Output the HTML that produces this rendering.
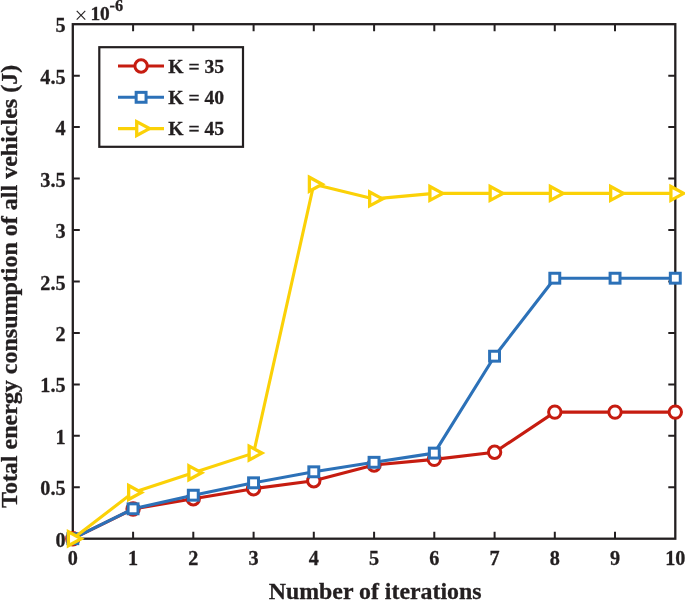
<!DOCTYPE html>
<html><head><meta charset="utf-8"><title>Total energy consumption</title>
<style>
html,body{margin:0;padding:0;background:#fff;}
svg{display:block;}
text{font-family:"Liberation Serif","Times New Roman",serif;font-weight:bold;fill:#231f20;stroke:#231f20;stroke-width:0.3px;}
.t{font-size:20.2px;}
.g{font-size:19.6px;}
.yl{font-size:23.9px;}
.l{font-size:24px;}
</style></head><body>
<svg width="685" height="600" viewBox="0 0 685 600">
<rect width="685" height="600" fill="#fff"/>
<rect x="72.8" y="24.2" width="602.5" height="514.5" fill="none" stroke="#231f20" stroke-width="2.3"/>
<path d="M133.1 538.7v-7M133.1 24.2v7M193.3 538.7v-7M193.3 24.2v7M253.6 538.7v-7M253.6 24.2v7M313.8 538.7v-7M313.8 24.2v7M374.1 538.7v-7M374.1 24.2v7M434.3 538.7v-7M434.3 24.2v7M494.6 538.7v-7M494.6 24.2v7M554.8 538.7v-7M554.8 24.2v7M615.0 538.7v-7M615.0 24.2v7M72.8 487.3h7M675.3 487.3h-7M72.8 435.8h7M675.3 435.8h-7M72.8 384.4h7M675.3 384.4h-7M72.8 332.9h7M675.3 332.9h-7M72.8 281.5h7M675.3 281.5h-7M72.8 230.0h7M675.3 230.0h-7M72.8 178.6h7M675.3 178.6h-7M72.8 127.1h7M675.3 127.1h-7M72.8 75.7h7M675.3 75.7h-7" stroke="#231f20" stroke-width="2" fill="none"/>
<text class="t" x="72.8" y="565.0" text-anchor="middle">0</text>
<text class="t" x="133.1" y="565.0" text-anchor="middle">1</text>
<text class="t" x="193.3" y="565.0" text-anchor="middle">2</text>
<text class="t" x="253.6" y="565.0" text-anchor="middle">3</text>
<text class="t" x="313.8" y="565.0" text-anchor="middle">4</text>
<text class="t" x="374.1" y="565.0" text-anchor="middle">5</text>
<text class="t" x="434.3" y="565.0" text-anchor="middle">6</text>
<text class="t" x="494.6" y="565.0" text-anchor="middle">7</text>
<text class="t" x="554.8" y="565.0" text-anchor="middle">8</text>
<text class="t" x="615.0" y="565.0" text-anchor="middle">9</text>
<text class="t" x="675.3" y="565.0" text-anchor="middle">10</text>
<text class="t" x="65.6" y="546.7" text-anchor="end">0</text>
<text class="t" x="65.6" y="495.3" text-anchor="end">0.5</text>
<text class="t" x="65.6" y="443.8" text-anchor="end">1</text>
<text class="t" x="65.6" y="392.4" text-anchor="end">1.5</text>
<text class="t" x="65.6" y="340.9" text-anchor="end">2</text>
<text class="t" x="65.6" y="289.5" text-anchor="end">2.5</text>
<text class="t" x="65.6" y="238.0" text-anchor="end">3</text>
<text class="t" x="65.6" y="186.6" text-anchor="end">3.5</text>
<text class="t" x="65.6" y="135.1" text-anchor="end">4</text>
<text class="t" x="65.6" y="83.7" text-anchor="end">4.5</text>
<text class="t" x="65.6" y="32.2" text-anchor="end">5</text>
<text x="74.6" y="22.6" font-size="23px" style="font-weight:normal;stroke:none">×</text>
<text x="90.4" y="20.0" font-size="19.4px">10</text>
<text x="109.6" y="10.9" font-size="16.3px">-6</text>
<text class="l" transform="translate(375.1 599.0) scale(0.994 1)" text-anchor="middle">Number of iterations</text>
<text class="yl" transform="translate(16.9 286.4) rotate(-90) scale(1.005 1)" text-anchor="middle">Total energy consumption of all vehicles (J)</text>
<polyline points="72.8,538.7 133.1,509.0 193.3,498.7 253.6,488.7 313.8,480.8 374.1,465.0 434.3,459.4 494.6,452.2 554.8,412.1 615.0,412.1 675.3,412.1" fill="none" stroke="#c61c10" stroke-width="3.1" stroke-linejoin="round"/>
<circle cx="72.8" cy="538.7" r="6.2" fill="#fff" stroke="#c61c10" stroke-width="3.0"/>
<circle cx="133.1" cy="509.0" r="6.2" fill="#fff" stroke="#c61c10" stroke-width="3.0"/>
<circle cx="193.3" cy="498.7" r="6.2" fill="#fff" stroke="#c61c10" stroke-width="3.0"/>
<circle cx="253.6" cy="488.7" r="6.2" fill="#fff" stroke="#c61c10" stroke-width="3.0"/>
<circle cx="313.8" cy="480.8" r="6.2" fill="#fff" stroke="#c61c10" stroke-width="3.0"/>
<circle cx="374.1" cy="465.0" r="6.2" fill="#fff" stroke="#c61c10" stroke-width="3.0"/>
<circle cx="434.3" cy="459.4" r="6.2" fill="#fff" stroke="#c61c10" stroke-width="3.0"/>
<circle cx="494.6" cy="452.2" r="6.2" fill="#fff" stroke="#c61c10" stroke-width="3.0"/>
<circle cx="554.8" cy="412.1" r="6.2" fill="#fff" stroke="#c61c10" stroke-width="3.0"/>
<circle cx="615.0" cy="412.1" r="6.2" fill="#fff" stroke="#c61c10" stroke-width="3.0"/>
<circle cx="675.3" cy="412.1" r="6.2" fill="#fff" stroke="#c61c10" stroke-width="3.0"/>
<polyline points="72.8,538.7 133.1,508.8 193.3,495.2 253.6,482.8 313.8,471.8 374.1,462.3 434.3,453.1 494.6,356.2 554.8,278.2 615.0,278.2 675.3,278.2" fill="none" stroke="#2c71b8" stroke-width="3.1" stroke-linejoin="round"/>
<rect x="67.85" y="533.75" width="9.9" height="9.9" fill="#fff" stroke="#2c71b8" stroke-width="3.0"/>
<rect x="128.10" y="503.85" width="9.9" height="9.9" fill="#fff" stroke="#2c71b8" stroke-width="3.0"/>
<rect x="188.35" y="490.25" width="9.9" height="9.9" fill="#fff" stroke="#2c71b8" stroke-width="3.0"/>
<rect x="248.60" y="477.85" width="9.9" height="9.9" fill="#fff" stroke="#2c71b8" stroke-width="3.0"/>
<rect x="308.85" y="466.85" width="9.9" height="9.9" fill="#fff" stroke="#2c71b8" stroke-width="3.0"/>
<rect x="369.10" y="457.35" width="9.9" height="9.9" fill="#fff" stroke="#2c71b8" stroke-width="3.0"/>
<rect x="429.35" y="448.15" width="9.9" height="9.9" fill="#fff" stroke="#2c71b8" stroke-width="3.0"/>
<rect x="489.60" y="351.25" width="9.9" height="9.9" fill="#fff" stroke="#2c71b8" stroke-width="3.0"/>
<rect x="549.85" y="273.25" width="9.9" height="9.9" fill="#fff" stroke="#2c71b8" stroke-width="3.0"/>
<rect x="610.10" y="273.25" width="9.9" height="9.9" fill="#fff" stroke="#2c71b8" stroke-width="3.0"/>
<rect x="670.35" y="273.25" width="9.9" height="9.9" fill="#fff" stroke="#2c71b8" stroke-width="3.0"/>
<polyline points="72.8,538.7 133.1,492.5 193.3,472.8 253.6,453.1 313.8,184.2 374.1,198.9 434.3,193.4 494.6,193.4 554.8,193.4 615.0,193.4 675.3,193.4" fill="none" stroke="#fbd107" stroke-width="3.1" stroke-linejoin="round"/>
<path d="M68.40 531.75L81.20 538.70L68.40 545.65Z" fill="#fff" stroke="#fbd107" stroke-width="3.3" stroke-linejoin="miter"/>
<path d="M128.65 485.55L141.45 492.50L128.65 499.45Z" fill="#fff" stroke="#fbd107" stroke-width="3.3" stroke-linejoin="miter"/>
<path d="M188.90 465.85L201.70 472.80L188.90 479.75Z" fill="#fff" stroke="#fbd107" stroke-width="3.3" stroke-linejoin="miter"/>
<path d="M249.15 446.15L261.95 453.10L249.15 460.05Z" fill="#fff" stroke="#fbd107" stroke-width="3.3" stroke-linejoin="miter"/>
<path d="M309.40 177.25L322.20 184.20L309.40 191.15Z" fill="#fff" stroke="#fbd107" stroke-width="3.3" stroke-linejoin="miter"/>
<path d="M369.65 191.95L382.45 198.90L369.65 205.85Z" fill="#fff" stroke="#fbd107" stroke-width="3.3" stroke-linejoin="miter"/>
<path d="M429.90 186.45L442.70 193.40L429.90 200.35Z" fill="#fff" stroke="#fbd107" stroke-width="3.3" stroke-linejoin="miter"/>
<path d="M490.15 186.45L502.95 193.40L490.15 200.35Z" fill="#fff" stroke="#fbd107" stroke-width="3.3" stroke-linejoin="miter"/>
<path d="M550.40 186.45L563.20 193.40L550.40 200.35Z" fill="#fff" stroke="#fbd107" stroke-width="3.3" stroke-linejoin="miter"/>
<path d="M610.65 186.45L623.45 193.40L610.65 200.35Z" fill="#fff" stroke="#fbd107" stroke-width="3.3" stroke-linejoin="miter"/>
<path d="M670.90 186.45L683.70 193.40L670.90 200.35Z" fill="#fff" stroke="#fbd107" stroke-width="3.3" stroke-linejoin="miter"/>
<rect x="99.3" y="47.2" width="143.7" height="99.6" fill="#fff" stroke="#231f20" stroke-width="2.2"/>
<path d="M118.0 66.0H164.0" stroke="#c61c10" stroke-width="3.1" fill="none"/>
<circle cx="141.1" cy="66.0" r="6.2" fill="#fff" stroke="#c61c10" stroke-width="3.0"/>
<text class="g" x="168.3" y="72.8">K = 35</text>
<path d="M118.0 97.3H164.0" stroke="#2c71b8" stroke-width="3.1" fill="none"/>
<rect x="136.15" y="92.35" width="9.9" height="9.9" fill="#fff" stroke="#2c71b8" stroke-width="3.0"/>
<text class="g" x="168.3" y="104.1">K = 40</text>
<path d="M118.0 128.6H164.0" stroke="#fbd107" stroke-width="3.1" fill="none"/>
<path d="M136.70 121.65L149.50 128.60L136.70 135.55Z" fill="#fff" stroke="#fbd107" stroke-width="3.3" stroke-linejoin="miter"/>
<text class="g" x="168.3" y="135.4">K = 45</text>
</svg></body></html>
